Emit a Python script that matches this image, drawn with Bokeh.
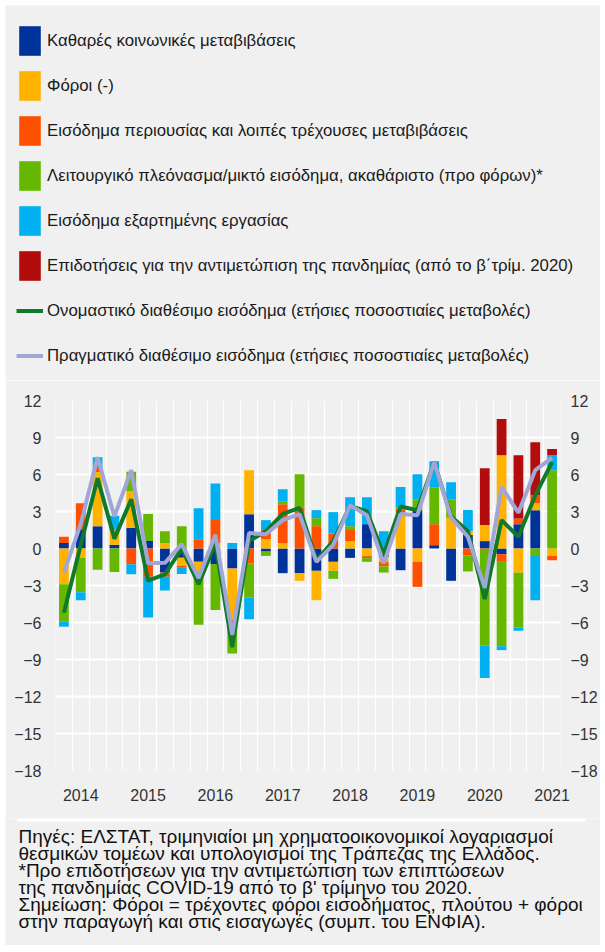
import numpy as np
from bokeh.plotting import figure
from bokeh.models import (ColumnDataSource, Range1d, FixedTicker, LinearAxis,
                          Legend, LegendItem)
from bokeh.layouts import column
from bokeh.embed import file_html
from bokeh.resources import INLINE
from bokeh.core.properties import value

# ---------------- data (annual % change contributions, quarterly) ----------------
quarters = ["2014Q1", "2014Q2", "2014Q3", "2014Q4", "2015Q1", "2015Q2", "2015Q3", "2015Q4",
            "2016Q1", "2016Q2", "2016Q3", "2016Q4", "2017Q1", "2017Q2", "2017Q3", "2017Q4",
            "2018Q1", "2018Q2", "2018Q3", "2018Q4", "2019Q1", "2019Q2", "2019Q3", "2019Q4",
            "2020Q1", "2020Q2", "2020Q3", "2020Q4", "2021Q1", "2021Q2"]
year_labels = ["2014", "2015", "2016", "2017", "2018", "2019", "2020", "2021"]

social_transfers = [0.45, 1.57, 1.81, 0.30, 1.68, 0.60, -1.95, -0.75, -1.08, -1.25,
                    -1.62, 2.78, -0.25, -2.00, -2.00, -1.81, -1.08, -0.76, 1.97, -0.70,
                    -1.76, 3.10, 0.27, -2.62, 1.10, 0.60, -0.46, 1.97, 3.10, 0.00]
taxes = [-2.90, -0.76, 4.40, 1.15, 2.97, 0.00, 0.43, -0.65, -0.81, 0.45,
         -4.20, 3.57, 0.76, 0.43, -0.62, -2.38, -0.73, 0.60, -0.62, -0.40,
         2.90, -1.08, 0.00, 2.49, 0.32, 1.30, 7.57, -1.97, 0.57, -0.60]
property_income = [0.50, 2.10, 0.40, 0.10, -1.27, -2.30, -0.35, -0.16, 0.76, 1.86,
                   -0.30, -1.20, 0.73, 3.16, 3.32, 1.81, 1.22, 0.97, -0.16, -0.35,
                   0.27, -2.03, 1.70, 0.00, -0.56, -0.05, -0.62, 0.46, 0.65, -0.35]
operating_surplus = [-3.00, -2.78, -1.73, -1.90, 1.57, 2.19, 0.97, 1.81, -4.30, -3.73,
                     -2.40, -2.80, -0.35, 0.24, 2.70, 0.65, -0.65, 0.24, -0.30, -0.50,
                     0.16, 0.90, 3.00, 1.51, -1.30, -7.80, -6.84, -4.43, -0.60, 6.35]
compensation = [-0.45, -0.65, 0.78, 1.10, -0.81, -3.30, -1.10, -0.51, 2.50, 2.97,
                0.45, -1.73, 0.81, 0.97, 0.00, 0.65, 1.73, 2.35, 2.19, 1.40,
                1.65, 2.03, 2.10, 1.38, 1.70, -2.65, -0.32, -0.27, -3.60, 1.22]
pandemic_subsidies = [0, 0, 0, 0, 0, 0, 0, 0, 0, 0,
                      0, 0, 0, 0, 0, 0, 0, 0, 0, 0,
                      0, 0, 0, 0, 0, 4.60, 2.92, 5.14, 4.30, 0.49]
nominal_income = [-5.2, 0.3, 5.7, 0.8, 4.0, -2.6, -2.1, 0.0, -2.9, 0.4,
                  -8.0, 0.6, 1.4, 2.8, 3.3, -0.95, 0.6, 3.46, 3.0, -0.5,
                  3.4, 3.1, 7.0, 2.6, 1.4, -4.1, 2.3, 0.95, 4.3, 7.0]
real_income = [-1.95, 2.0, 7.4, 2.6, 6.35, -1.2, -1.16, 0.35, -2.4, 1.1,
               -7.0, 1.25, 1.15, 2.3, 2.78, -1.08, 0.3, 3.5, 2.7, -1.2,
               2.8, 2.7, 7.0, 2.5, 0.95, -3.2, 5.0, 2.9, 6.35, 7.35]

labels = [
    "Καθαρές κοινωνικές μεταβιβάσεις",
    "Φόροι (-)",
    "Εισόδημα περιουσίας και λοιπές τρέχουσες μεταβιβάσεις",
    "Λειτουργικό πλεόνασμα/μικτό εισόδημα, ακαθάριστο (προ φόρων)*",
    "Εισόδημα εξαρτημένης εργασίας",
    "Επιδοτήσεις για την αντιμετώπιση της πανδημίας (από το β΄τρίμ. 2020)",
    "Ονομαστικό διαθέσιμο εισόδημα (ετήσιες ποσοστιαίες μεταβολές)",
    "Πραγματικό διαθέσιμο εισόδημα (ετήσιες ποσοστιαίες μεταβολές)",
]
notes = [
    "Πηγές: ΕΛΣΤΑΤ, τριμηνιαίοι μη χρηματοοικονομικοί λογαριασμοί",
    "θεσμικών τομέων και υπολογισμοί της Τράπεζας της Ελλάδος.",
    "*Προ επιδοτήσεων για την αντιμετώπιση των επιπτώσεων",
    "της πανδημίας COVID-19 από το β' τρίμηνο του 2020.",
    "Σημείωση: Φόροι = τρέχοντες φόροι εισοδήματος, πλούτου + φόροι",
    "στην παραγωγή και στις εισαγωγές (συμπ. του ΕΝΦΙΑ).",
]

# ---------------- style ----------------
BG = "#f0f0f0"
FONT = "Liberation Sans"
bar_colors = ["#003399", "#FFB300", "#FF4F00", "#66B700", "#00B0F0", "#B20C0C"]
line_colors = ["#0E7A2A", "#A0A6D6"]
W = 595

n = len(quarters)
x = np.arange(n)

# ---------------- legend panel ----------------
# (swatch renderers hold one point placed outside the visible range, so only
#  their legend glyphs show)
LH = 375
p0 = figure(width=W, height=LH, x_range=Range1d(0, 1), y_range=Range1d(0, 1),
            output_backend="svg", toolbar_location=None, min_border=0,
            x_axis_type=None, y_axis_type=None,
            background_fill_color=BG, border_fill_color=BG, outline_line_color=None)
p0.grid.visible = False
legend_renderers = []
for color in bar_colors:
    legend_renderers.append(p0.vbar(x=[5], top=[6], bottom=[5], width=0.5,
                                    fill_color=color, line_color=None))
for color in line_colors:
    legend_renderers.append(p0.line(x=[5, 6], y=[5, 5], line_color=color, line_width=4))
legend = Legend(items=[LegendItem(label=l, renderers=[r])
                       for l, r in zip(labels, legend_renderers)],
                location=(11, 6), glyph_width=27, glyph_height=37, spacing=8,
                label_standoff=4, padding=0, margin=0, border_line_color=None,
                background_fill_alpha=0, label_text_font=FONT,
                label_text_font_size="16.8px", label_text_color="#1a1a1a",
                label_text_baseline="middle")
p0.add_layout(legend)

# ---------------- main chart ----------------
p = figure(width=W, height=438,
           x_range=Range1d(-0.5, n - 0.5), y_range=Range1d(-18, 12),
           output_backend="svg", toolbar_location=None,
           min_border_left=50, min_border_right=38,
           min_border_top=20, min_border_bottom=48,
           background_fill_color=BG, border_fill_color=BG,
           outline_line_color=None)

yticks = FixedTicker(ticks=list(range(-18, 13, 3)))
p.yaxis.ticker = yticks
p.add_layout(LinearAxis(ticker=yticks), "right")
year_pos = [quarters.index(y + "Q2") for y in year_labels]
p.xaxis.ticker = FixedTicker(ticks=year_pos)
p.xaxis.major_label_overrides = {pos: lab for pos, lab in zip(year_pos, year_labels)}

for ax in p.axis:
    ax.axis_line_color = None
    ax.major_tick_line_color = None
    ax.minor_tick_line_color = None
    ax.major_label_text_font = FONT
    ax.major_label_text_font_size = "16px"
    ax.major_label_text_color = "#333333"
p.xaxis.major_label_standoff = 12
p.yaxis[0].major_label_standoff = 8
p.yaxis[1].major_label_standoff = 4

p.xgrid.ticker = FixedTicker(ticks=[i - 0.5 for i in range(n + 1)])
p.xgrid.grid_line_color = "white"
p.xgrid.grid_line_width = 1.2
p.ygrid.grid_line_color = "white"
p.ygrid.grid_line_width = 2

series = [social_transfers, taxes, property_income, operating_surplus, compensation,
          pandemic_subsidies]
pos_base = np.zeros(n)
neg_base = np.zeros(n)
for vals, color in zip(series, bar_colors):
    v = np.array(vals, dtype=float)
    bottom = np.where(v >= 0, pos_base, neg_base)
    top = bottom + v
    pos_base = np.where(v >= 0, pos_base + v, pos_base)
    neg_base = np.where(v < 0, neg_base + v, neg_base)
    src = ColumnDataSource(dict(x=x, bottom=bottom, top=top))
    p.vbar(x="x", width=0.58, bottom="bottom", top="top", source=src,
           fill_color=color, line_color=None)

p.line(x, nominal_income, line_color=line_colors[0], line_width=4)
p.line(x, real_income, line_color=line_colors[1], line_width=4)

# ---------------- notes ----------------
NH = 127
p2 = figure(width=W, height=NH, x_range=Range1d(0, W), y_range=Range1d(NH, 0),
            output_backend="svg", toolbar_location=None, min_border=0,
            x_axis_type=None, y_axis_type=None,
            background_fill_color=BG, border_fill_color=BG, outline_line_color=None)
p2.grid.visible = False
p2.segment(x0=[12], y0=[1.5], x1=[580], y1=[1.5], line_color="white", line_width=3)
note_src = ColumnDataSource(dict(x=[13] * len(notes),
                                 y=[18 + 17 * i for i in range(len(notes))],
                                 text=notes))
p2.text(x="x", y="y", text="text", source=note_src, text_font=value(FONT),
        text_font_size="19px", text_baseline="middle", text_color="#111111")

for fig in (p0, p, p2):
    try:
        fig.frame_align = False
    except Exception:
        pass

layout = column(p0, p, p2, spacing=0, margin=(5, 5, 5, 5))
open("out.html", "w").write(file_html(layout, INLINE))
